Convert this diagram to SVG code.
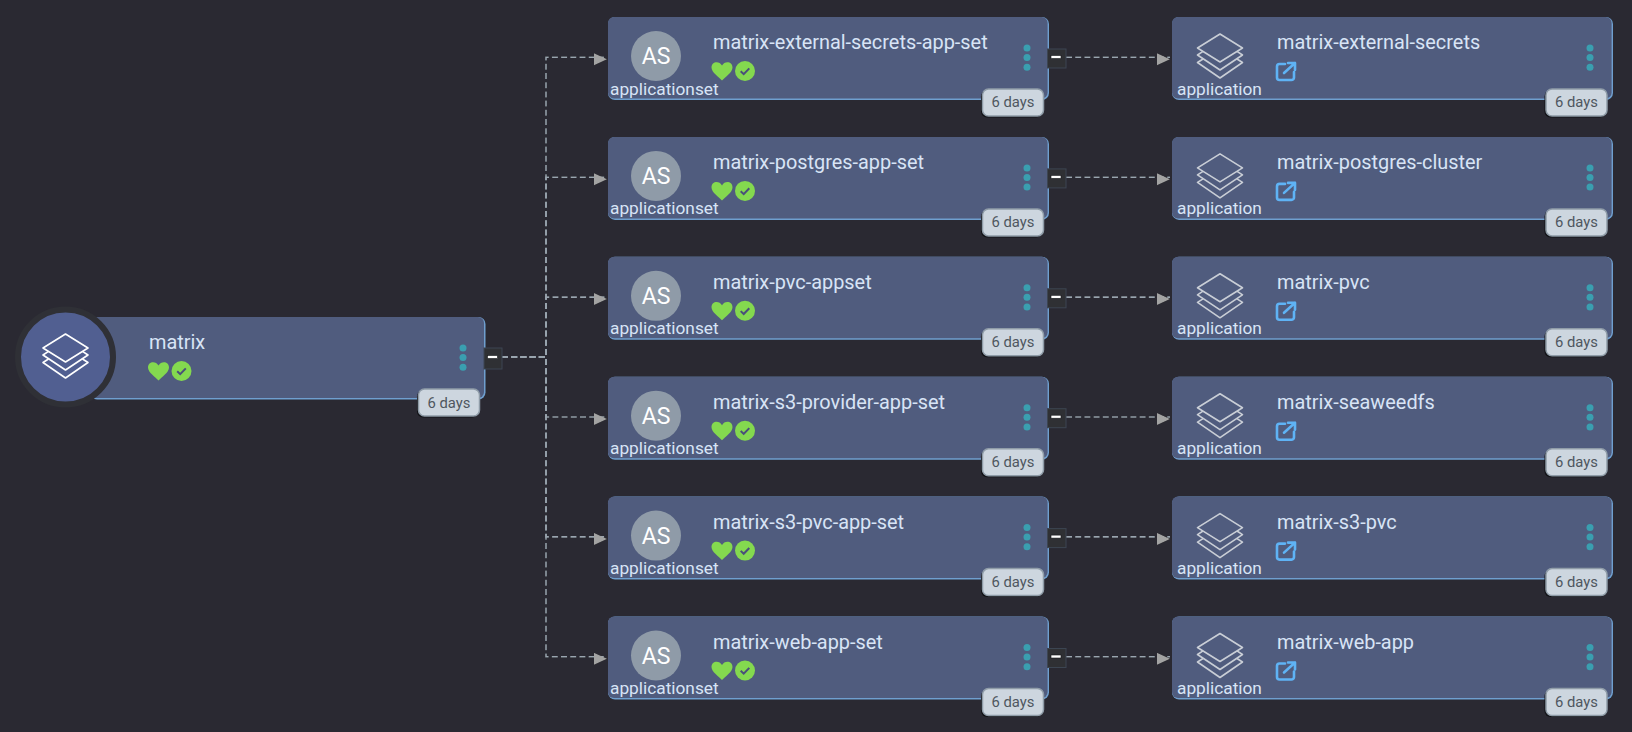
<svg xmlns="http://www.w3.org/2000/svg" width="1632" height="732" viewBox="0 0 1632 732">
<style>
text{font-family:Roboto,"Liberation Sans",sans-serif}
.edge{fill:none;stroke:#9aa5b0;stroke-width:1.6;stroke-dasharray:6 3.2;marker-end:url(#arr)}
#connectors{filter:drop-shadow(0 0 .6px #000)}
.bd{fill:#6f9fcf}.bg{fill:#505c7e}
.name{font-size:19.9px;fill:#d8e4f6}
.kind{font-size:17.3px;fill:#d8e4f6}
.as{font-size:23px;fill:#fff;text-anchor:middle}
.age{font-size:14.8px;fill:#4f5660;text-anchor:middle}
.badge{fill:#cdd6df;stroke:#8f9ca8;stroke-width:1.5}
.sh{fill:#111216}
.dot{fill:#3a9fb0}
.box{fill:#2f3034;stroke:#3c4552;stroke-width:1}
.bar{fill:#fff;stroke:#15161a;stroke-width:.6}
.stack{fill:none;stroke-linejoin:round;stroke-width:1.6}
</style>
<defs>
<marker id="arr" markerUnits="userSpaceOnUse" markerWidth="14" markerHeight="13" refX="13" refY="4" orient="0"><polygon points="0,0 13,6 0,12" fill="#a3a3a3"/></marker>
<g id="status">
<path d="M0,9.5C-3,6 -10.5,1.5 -10.5,-3.5C-10.5,-10 -2.5,-10.5 0,-5.5C2.5,-10.5 10.5,-10 10.500,-3.5C10.500,1.500 3,6 0,9.500Z" fill="#84d94f"/>
<circle cx="23" cy="0" r="10" fill="#84d94f"/>
<path d="M18.7,.3L21.7,3.2L27.3,-2.6" fill="none" stroke="#4a4f7a" stroke-width="2"/>
</g>
<g id="dots"><circle class="dot" cx="0" cy="-9.5" r="3.5"/><circle class="dot" cx="0" cy="0" r="3.5"/><circle class="dot" cx="0" cy="9.7" r="3.5"/></g>
<g id="stackicon"><path d="M0,-22L22.5,-8L0,6L-22.5,-8Z"/><path d="M-17,-4.6L-22.5,-1L0,14L22.5,-1L17,-4.6"/><path d="M-17,3L-22.5,6.5L0,22L22.5,6.5L17,3"/></g>
<g id="ext" fill="none" stroke="#5fb3f5" stroke-width="2.6" stroke-linecap="round" stroke-linejoin="round"><path d="M1285,64H1279.5a2.5,2.5 0 0 0 -2.5,2.5V77.5a2.5,2.5 0 0 0 2.5,2.5H1291.500a2.5,2.5 0 0 0 2.5,-2.5V72"/><path d="M1284,73L1295,63M1288,63H1295V70"/></g>
<g id="card"><rect class="bd" x="0" y="0" width="441" height="83" rx="7"/><rect class="bg" x="0" y="0" width="439.6" height="81.5" rx="6"/></g>
<g id="age"><rect class="sh" x="-1.5" y="1.5" width="61" height="27" rx="6"/><rect class="badge" x="0" y="0" width="61" height="27" rx="6"/></g>
</defs>
<rect width="1632" height="732" fill="#2a2932"/>
<g id="connectors">
<path class="edge" d="M502,357H546V57.3H607"/>
<path class="edge" d="M502,357H546V177.2H607"/>
<path class="edge" d="M502,357H546V297.1H607"/>
<path class="edge" d="M502,357H546V417H607"/>
<path class="edge" d="M502,357H546V536.9H607"/>
<path class="edge" d="M502,357H546V656.8H607"/>
<path class="edge" d="M1066,57.3H1170"/>
<path class="edge" d="M1066,177.2H1170"/>
<path class="edge" d="M1066,297.1H1170"/>
<path class="edge" d="M1066,417H1170"/>
<path class="edge" d="M1066,536.9H1170"/>
<path class="edge" d="M1066,656.8H1170"/>
</g>
<g id="node-matrix">
<rect class="bd" x="90" y="317" width="395.500" height="82.500" rx="7"/><rect class="bg" x="90" y="317" width="394" height="81" rx="6"/>
<circle cx="65.500" cy="357" r="47.500" fill="#515f91" stroke="#2f3036" stroke-width="6"/>
<use href="#stackicon" transform="translate(65.500,356)" class="stack" stroke="#fff"/>
<text class="name" x="149" y="349">matrix</text>
<use href="#status" x="158.500" y="371"/>
<use href="#dots" x="463" y="357.500"/>
<rect class="box" x="484" y="348" width="18" height="21"/><rect class="bar" x="487.500" y="355.500" width="10" height="3"/>
<use href="#age" x="418.500" y="389"/>
<text class="age" x="449" y="407.800">6 days</text>
</g>
<g id="node-set-1" transform="translate(0,0)"><use href="#card" x="608" y="17"/><circle cx="656" cy="56" r="25" fill="#8f9ba8"/><text class="as" x="656" y="64">AS</text><text class="name" x="713" y="49">matrix-external-secrets-app-set</text><text class="kind" x="610" y="94.500">applicationset</text><use href="#status" x="722" y="71"/><use href="#dots" x="1027" y="57.500"/><rect class="box" x="1047.500" y="49" width="18.500" height="19"/><rect class="bar" x="1051" y="55.500" width="10" height="3"/><use href="#age" x="982.500" y="89"/><text class="age" x="1013" y="107.400">6 days</text></g>
<g id="node-set-2" transform="translate(0,119.900)"><use href="#card" x="608" y="17"/><circle cx="656" cy="56" r="25" fill="#8f9ba8"/><text class="as" x="656" y="64">AS</text><text class="name" x="713" y="49">matrix-postgres-app-set</text><text class="kind" x="610" y="94.500">applicationset</text><use href="#status" x="722" y="71"/><use href="#dots" x="1027" y="57.500"/><rect class="box" x="1047.500" y="49" width="18.500" height="19"/><rect class="bar" x="1051" y="55.500" width="10" height="3"/><use href="#age" x="982.500" y="89"/><text class="age" x="1013" y="107.400">6 days</text></g>
<g id="node-set-3" transform="translate(0,239.800)"><use href="#card" x="608" y="17"/><circle cx="656" cy="56" r="25" fill="#8f9ba8"/><text class="as" x="656" y="64">AS</text><text class="name" x="713" y="49">matrix-pvc-appset</text><text class="kind" x="610" y="94.500">applicationset</text><use href="#status" x="722" y="71"/><use href="#dots" x="1027" y="57.500"/><rect class="box" x="1047.500" y="49" width="18.500" height="19"/><rect class="bar" x="1051" y="55.500" width="10" height="3"/><use href="#age" x="982.500" y="89"/><text class="age" x="1013" y="107.400">6 days</text></g>
<g id="node-set-4" transform="translate(0,359.700)"><use href="#card" x="608" y="17"/><circle cx="656" cy="56" r="25" fill="#8f9ba8"/><text class="as" x="656" y="64">AS</text><text class="name" x="713" y="49">matrix-s3-provider-app-set</text><text class="kind" x="610" y="94.500">applicationset</text><use href="#status" x="722" y="71"/><use href="#dots" x="1027" y="57.500"/><rect class="box" x="1047.500" y="49" width="18.500" height="19"/><rect class="bar" x="1051" y="55.500" width="10" height="3"/><use href="#age" x="982.500" y="89"/><text class="age" x="1013" y="107.400">6 days</text></g>
<g id="node-set-5" transform="translate(0,479.600)"><use href="#card" x="608" y="17"/><circle cx="656" cy="56" r="25" fill="#8f9ba8"/><text class="as" x="656" y="64">AS</text><text class="name" x="713" y="49">matrix-s3-pvc-app-set</text><text class="kind" x="610" y="94.500">applicationset</text><use href="#status" x="722" y="71"/><use href="#dots" x="1027" y="57.500"/><rect class="box" x="1047.500" y="49" width="18.500" height="19"/><rect class="bar" x="1051" y="55.500" width="10" height="3"/><use href="#age" x="982.500" y="89"/><text class="age" x="1013" y="107.400">6 days</text></g>
<g id="node-set-6" transform="translate(0,599.500)"><use href="#card" x="608" y="17"/><circle cx="656" cy="56" r="25" fill="#8f9ba8"/><text class="as" x="656" y="64">AS</text><text class="name" x="713" y="49">matrix-web-app-set</text><text class="kind" x="610" y="94.500">applicationset</text><use href="#status" x="722" y="71"/><use href="#dots" x="1027" y="57.500"/><rect class="box" x="1047.500" y="49" width="18.500" height="19"/><rect class="bar" x="1051" y="55.500" width="10" height="3"/><use href="#age" x="982.500" y="89"/><text class="age" x="1013" y="107.400">6 days</text></g>
<g id="node-app-1" transform="translate(0,0)"><use href="#card" x="1172" y="17"/><use href="#stackicon" transform="translate(1220,56)" class="stack" stroke="#c9ced6"/><text class="name" x="1277" y="49">matrix-external-secrets</text><text class="kind" x="1177" y="94.500">application</text><use href="#ext"/><use href="#dots" x="1590" y="57.500"/><use href="#age" x="1546" y="89"/><text class="age" x="1576.500" y="107.400">6 days</text></g>
<g id="node-app-2" transform="translate(0,119.900)"><use href="#card" x="1172" y="17"/><use href="#stackicon" transform="translate(1220,56)" class="stack" stroke="#c9ced6"/><text class="name" x="1277" y="49">matrix-postgres-cluster</text><text class="kind" x="1177" y="94.500">application</text><use href="#ext"/><use href="#dots" x="1590" y="57.500"/><use href="#age" x="1546" y="89"/><text class="age" x="1576.500" y="107.400">6 days</text></g>
<g id="node-app-3" transform="translate(0,239.800)"><use href="#card" x="1172" y="17"/><use href="#stackicon" transform="translate(1220,56)" class="stack" stroke="#c9ced6"/><text class="name" x="1277" y="49">matrix-pvc</text><text class="kind" x="1177" y="94.500">application</text><use href="#ext"/><use href="#dots" x="1590" y="57.500"/><use href="#age" x="1546" y="89"/><text class="age" x="1576.500" y="107.400">6 days</text></g>
<g id="node-app-4" transform="translate(0,359.700)"><use href="#card" x="1172" y="17"/><use href="#stackicon" transform="translate(1220,56)" class="stack" stroke="#c9ced6"/><text class="name" x="1277" y="49">matrix-seaweedfs</text><text class="kind" x="1177" y="94.500">application</text><use href="#ext"/><use href="#dots" x="1590" y="57.500"/><use href="#age" x="1546" y="89"/><text class="age" x="1576.500" y="107.400">6 days</text></g>
<g id="node-app-5" transform="translate(0,479.600)"><use href="#card" x="1172" y="17"/><use href="#stackicon" transform="translate(1220,56)" class="stack" stroke="#c9ced6"/><text class="name" x="1277" y="49">matrix-s3-pvc</text><text class="kind" x="1177" y="94.500">application</text><use href="#ext"/><use href="#dots" x="1590" y="57.500"/><use href="#age" x="1546" y="89"/><text class="age" x="1576.500" y="107.400">6 days</text></g>
<g id="node-app-6" transform="translate(0,599.500)"><use href="#card" x="1172" y="17"/><use href="#stackicon" transform="translate(1220,56)" class="stack" stroke="#c9ced6"/><text class="name" x="1277" y="49">matrix-web-app</text><text class="kind" x="1177" y="94.500">application</text><use href="#ext"/><use href="#dots" x="1590" y="57.500"/><use href="#age" x="1546" y="89"/><text class="age" x="1576.500" y="107.400">6 days</text></g>
</svg>
